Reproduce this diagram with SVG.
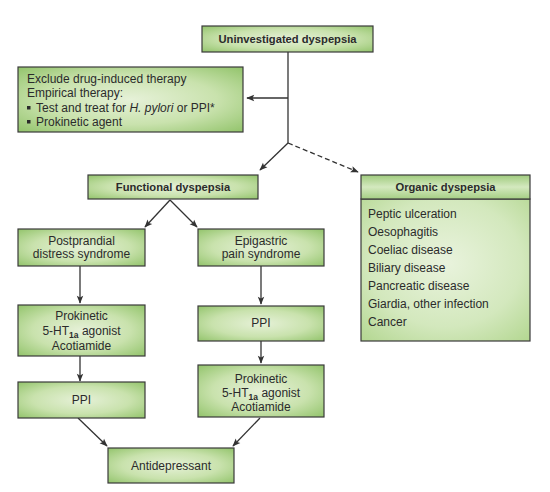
<svg xmlns="http://www.w3.org/2000/svg" width="550" height="492" viewBox="0 0 550 492">
<defs>
<radialGradient id="g" cx="0.5" cy="0.5" r="0.7">
<stop offset="0" stop-color="#e6f1d8"/>
<stop offset="0.55" stop-color="#c9e2ad"/>
<stop offset="1" stop-color="#93c46c"/>
</radialGradient>
<linearGradient id="gh" x1="0" y1="0" x2="0" y2="1">
<stop offset="0" stop-color="#9fcb7d"/>
<stop offset="0.5" stop-color="#d4e9bf"/>
<stop offset="1" stop-color="#a5cf84"/>
</linearGradient>
<radialGradient id="gb" cx="0.5" cy="0.45" r="0.75">
<stop offset="0" stop-color="#e9f3dd"/>
<stop offset="0.6" stop-color="#d3e8bd"/>
<stop offset="1" stop-color="#b2d68f"/>
</radialGradient>
<marker id="ah" viewBox="0 0 10 10" refX="9" refY="5" markerWidth="10" markerHeight="8" markerUnits="userSpaceOnUse" orient="auto">
<path d="M0,1 L10,5 L0,9 L2,5 z" fill="#333"/>
</marker>
</defs>
<style>
.box{stroke:#3a3a3a;stroke-width:1.2;fill:url(#g)}
.t{font-family:"Liberation Sans",Arial,sans-serif;font-size:12px;fill:#2b2b2b}
.b{font-family:"Liberation Sans",Arial,sans-serif;font-size:11.2px;font-weight:bold;fill:#2b2b2b}
.c{text-anchor:middle}
.l{stroke:#333;stroke-width:1.3;fill:none}
.a{marker-end:url(#ah)}
.d{stroke-dasharray:5,3}
.sub{font-size:8.5px;font-weight:bold}
</style>
<rect width="550" height="492" fill="#fff"/>
<g id="connectors">
<line class="l" x1="288" y1="52" x2="288" y2="143"/>
<line class="l a" x1="288" y1="98" x2="247" y2="98"/>
<line class="l a" x1="288" y1="143" x2="260" y2="170"/>
<line class="l a d" x1="288" y1="143" x2="358" y2="172"/>
<line class="l a" x1="170" y1="200" x2="145" y2="227"/>
<line class="l a" x1="170" y1="200" x2="197" y2="227"/>
<line class="l a" x1="80" y1="266" x2="80" y2="303"/>
<line class="l a" x1="261" y1="266" x2="261" y2="304"/>
<line class="l a" x1="80" y1="356" x2="80" y2="381"/>
<line class="l a" x1="261" y1="341" x2="261" y2="363"/>
<line class="l a" x1="78" y1="418" x2="107" y2="446"/>
<line class="l a" x1="260" y1="418" x2="233" y2="446"/>
</g>
<g id="uninvestigated">
<rect class="box" x="202" y="26" width="171" height="26"/>
<text class="b c" x="287.5" y="43">Uninvestigated dyspepsia</text>
</g>
<g id="exclude">
<rect class="box" x="18" y="67" width="225" height="65"/>
<text class="t" x="27" y="83">Exclude drug-induced therapy</text>
<text class="t" x="27" y="97">Empirical therapy:</text>
<rect x="27" y="106" width="3.5" height="3.5" fill="#2b2b2b"/>
<text class="t" x="36" y="112">Test and treat for <tspan font-style="italic">H. pylori</tspan> or PPI*</text>
<rect x="27" y="120" width="3.5" height="3.5" fill="#2b2b2b"/>
<text class="t" x="36" y="126">Prokinetic agent</text>
</g>
<g id="functional">
<rect class="box" x="88" y="175" width="170" height="24"/>
<text class="b c" x="173" y="191">Functional dyspepsia</text>
</g>
<g id="organic">
<rect x="361" y="199" width="169" height="142" fill="url(#gb)" stroke="#3a3a3a" stroke-width="1.2"/>
<rect x="361" y="175" width="169" height="24" fill="url(#gh)" stroke="#3a3a3a" stroke-width="1.2"/>
<text class="b c" x="445.5" y="191">Organic dyspepsia</text>
<text class="t" x="368" y="218">Peptic ulceration</text>
<text class="t" x="368" y="236">Oesophagitis</text>
<text class="t" x="368" y="254">Coeliac disease</text>
<text class="t" x="368" y="272">Biliary disease</text>
<text class="t" x="368" y="290">Pancreatic disease</text>
<text class="t" x="368" y="308">Giardia, other infection</text>
<text class="t" x="368" y="326">Cancer</text>
</g>
<g id="postprandial">
<rect class="box" x="18" y="229" width="127" height="37"/>
<text class="t c" x="81.5" y="245">Postprandial</text>
<text class="t c" x="81.5" y="258">distress syndrome</text>
</g>
<g id="epigastric">
<rect class="box" x="198" y="229" width="126" height="37"/>
<text class="t c" x="261" y="245">Epigastric</text>
<text class="t c" x="261" y="258">pain syndrome</text>
</g>
<g id="prokinetic-left">
<rect class="box" x="18" y="305" width="127" height="51"/>
<text class="t c" x="81.5" y="320">Prokinetic</text>
<text class="t c" x="81.5" y="335">5-HT<tspan class="sub" dy="2.5">1a</tspan><tspan dy="-2.5"> agonist</tspan></text>
<text class="t c" x="81.5" y="350">Acotiamide</text>
</g>
<g id="ppi-right">
<rect class="box" x="198" y="306" width="126" height="35"/>
<text class="t c" x="261" y="327">PPI</text>
</g>
<g id="ppi-left">
<rect class="box" x="18" y="382" width="127" height="36"/>
<text class="t c" x="81.5" y="404">PPI</text>
</g>
<g id="prokinetic-right">
<rect class="box" x="198" y="365" width="126" height="52"/>
<text class="t c" x="261" y="383">Prokinetic</text>
<text class="t c" x="261" y="397">5-HT<tspan class="sub" dy="2.5">1a</tspan><tspan dy="-2.5"> agonist</tspan></text>
<text class="t c" x="261" y="411">Acotiamide</text>
</g>
<g id="antidepressant">
<rect class="box" x="108" y="448" width="126" height="35"/>
<text class="t c" x="171" y="470">Antidepressant</text>
</g>
</svg>
